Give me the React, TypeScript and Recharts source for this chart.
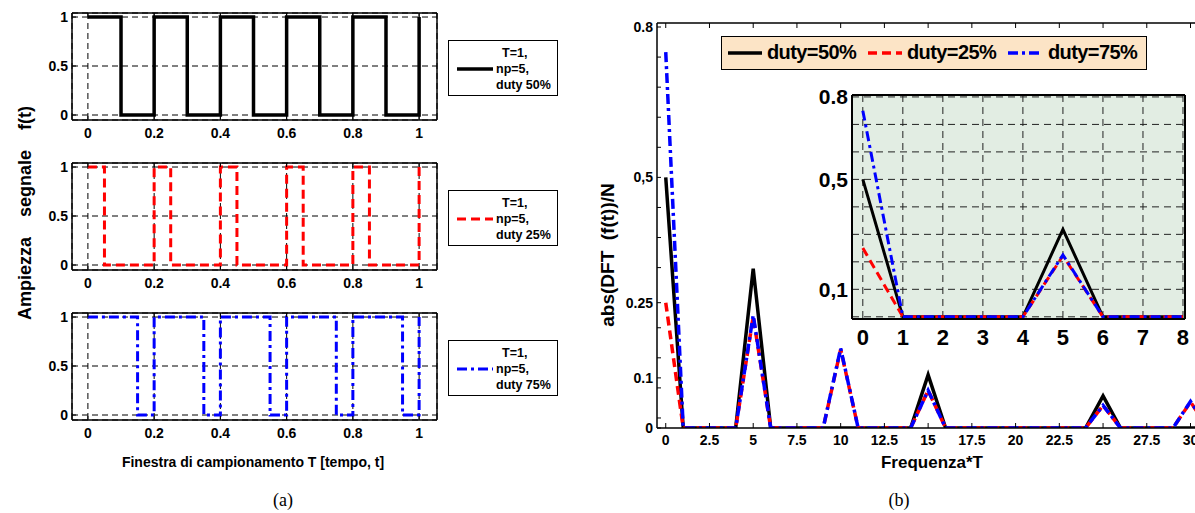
import React from 'react';
import { CartesianGrid, Line, LineChart, XAxis, YAxis } from 'recharts';

const FONT = '"Liberation Sans", Arial, sans-serif';

// segnali nel tempo (T = 1, np = 5)
const t50 = [0, 0.1, 0.2, 0.3, 0.4, 0.5, 0.6, 0.7, 0.8, 0.9, 1];
const f50 = [1, 0, 1, 0, 1, 0, 1, 0, 1, 0, 1];
const t25 = [0, 0.05, 0.2, 0.25, 0.4, 0.45, 0.6, 0.65, 0.8, 0.85, 1];
const f25 = [1, 0, 1, 0, 1, 0, 1, 0, 1, 0, 1];
const t75 = [0, 0.15, 0.2, 0.35, 0.4, 0.55, 0.6, 0.75, 0.8, 0.95, 1];
const f75 = [1, 0, 1, 0, 1, 0, 1, 0, 1, 0, 1];
const timeTicks = [0, 0.2, 0.4, 0.6, 0.8, 1];
const ampTicks = [0, 0.5, 1];

// spettro abs(DFT)/N
const freq = [0, 1, 2, 3, 4, 5, 6, 7, 8, 9, 10, 11, 12, 13, 14, 15, 16, 17, 18, 19, 20, 21, 22, 23, 24, 25, 26, 27, 28, 29, 30, 31];
const dft50 = [0.5, 0, 0, 0, 0, 0.318, 0, 0, 0, 0, 0, 0, 0, 0, 0, 0.106, 0, 0, 0, 0, 0, 0, 0, 0, 0, 0.064, 0, 0, 0, 0, 0, 0];
const dft25 = [0.25, 0, 0, 0, 0, 0.222, 0, 0, 0, 0, 0.157, 0, 0, 0, 0, 0.075, 0, 0, 0, 0, 0, 0, 0, 0, 0, 0.045, 0, 0, 0, 0, 0.052, 0];
const dft75 = [0.75, 0, 0, 0, 0, 0.225, 0, 0, 0, 0, 0.159, 0, 0, 0, 0, 0.075, 0, 0, 0, 0, 0, 0, 0, 0, 0, 0.045, 0, 0, 0, 0, 0.053, 0];
const freqTicks = [0, 2.5, 5, 7.5, 10, 12.5, 15, 17.5, 20, 22.5, 25, 27.5, 30];
const dftTicks = [0, 0.1, 0.25, 0.5, 0.8];
const dftMinorTicks = [0.02, 0.08, 0.14, 0.2, 0.32, 0.38, 0.44, 0.56, 0.62, 0.68, 0.74];
const zoomFreqTicks = [0, 1, 2, 3, 4, 5, 6, 7, 8];
const zoomGrid = [0, 0.1, 0.2, 0.3, 0.4, 0.5, 0.6, 0.7, 0.8];
const zoomLabels = [0.1, 0.5, 0.8];

const STYLE = {
  d50: { stroke: '#000000', dash: undefined as string | undefined, width: 3.5 },
  d25: { stroke: '#ff0000', dash: '9 5', width: 3 },
  d75: { stroke: '#0000ff', dash: '10 4 3 4', width: 3 },
};

const fmtMain = (v: number) => (v === 0.5 ? '0,5' : String(v));
const fmtZoom = (v: number) => (v === 0.5 || v === 0.1 ? String(v).replace('.', ',') : String(v));

// tick rivolti verso l'interno, come in matlab
const leftTick = (fs: number, labels: number[] | null, fmt: (v: number) => string, len = 5) => (p: any) => {
  const v = p.payload.value;
  const show = !labels || labels.includes(v);
  return (
    <g>
      {len > 0 && <line x1={p.x} x2={p.x + len} y1={p.y} y2={p.y} stroke="#000" strokeWidth={1} />}
      {show && (
        <text x={p.x - 4} y={p.y} dy="0.35em" textAnchor="end" fontSize={fs} fontWeight="bold" fontFamily={FONT} fill="#000">
          {fmt(v)}
        </text>
      )}
    </g>
  );
};
const bottomTick = (fs: number, gap: number, len = 5) => (p: any) => (
  <g>
    {len > 0 && <line x1={p.x} x2={p.x} y1={p.y} y2={p.y - len} stroke="#000" strokeWidth={1} />}
    <text x={p.x} y={p.y + gap} dy="0.35em" textAnchor="middle" fontSize={fs} fontWeight="bold" fontFamily={FONT} fill="#000">
      {String(p.payload.value)}
    </text>
  </g>
);
const topTick = (len = 5) => (p: any) => <line x1={p.x} x2={p.x} y1={p.y} y2={p.y + len} stroke="#000" strokeWidth={1} />;
const noTick = () => <g />;

type PanelProps = { top: number; t: number[]; f: number[]; s: keyof typeof STYLE; duty: string };

const SquarePanel = ({ top, t, f, s, duty }: PanelProps) => {
  const rows = t.map((x, i) => ({ t: x, f: f[i] }));
  const st = STYLE[s];
  return (
    <>
      <div style={{ position: 'absolute', left: 0, top }}>
        <LineChart width={445} height={150} data={rows} margin={{ top: 12, right: 7, bottom: 0, left: 0 }}>
          <CartesianGrid stroke="#000" strokeDasharray="6 4" strokeWidth={1} />
          <XAxis dataKey="t" type="number" domain={[-0.048, 1.054]} ticks={timeTicks} allowDataOverflow height={30}
            tickSize={0} tickMargin={0} tickLine={false} tick={bottomTick(14, 13, 4)} axisLine={{ stroke: '#000', strokeWidth: 1.5 }} interval={0} />
          <XAxis xAxisId="top" orientation="top" dataKey="t" type="number" domain={[-0.048, 1.054]} ticks={timeTicks} allowDataOverflow height={1}
            tickSize={0} tickMargin={0} tickLine={false} tick={topTick(4)} axisLine={{ stroke: '#000', strokeWidth: 1.5 }} interval={0} />
          <YAxis type="number" domain={[-0.051, 1.041]} ticks={ampTicks} allowDataOverflow width={72}
            tickSize={0} tickMargin={0} tickLine={false} tick={leftTick(14, null, (v) => String(v), 4)} axisLine={{ stroke: '#000', strokeWidth: 1.5 }} interval={0} />
          <YAxis yAxisId="right" orientation="right" type="number" domain={[-0.051, 1.041]} ticks={ampTicks} allowDataOverflow width={1}
            tickSize={0} tickMargin={0} tickLine={false} tick={noTick} axisLine={{ stroke: '#000', strokeWidth: 1.5 }} />
          <Line type="stepAfter" dataKey="f" stroke={st.stroke} strokeWidth={st.width} strokeDasharray={st.dash} dot={false} isAnimationActive={false} />
        </LineChart>
      </div>
      <div style={{ position: 'absolute', left: 448, top: top + 40, width: 108, height: 54, border: '1px solid #000', background: '#fff', fontFamily: FONT, fontWeight: 'bold', fontSize: 12.5, lineHeight: '16px' }}>
        <svg style={{ position: 'absolute', left: 8, top: 25 }} width={36} height={6}>
          <line x1={0} x2={36} y1={3} y2={3} stroke={st.stroke} strokeWidth={st.width} strokeDasharray={st.dash} />
        </svg>
        <div style={{ position: 'absolute', left: 53, top: 4 }}>T=1,</div>
        <div style={{ position: 'absolute', left: 47, top: 20 }}>np=5,</div>
        <div style={{ position: 'absolute', left: 47, top: 36, whiteSpace: 'nowrap' }}>{duty}</div>
      </div>
    </>
  );
};

const legendItems: { key: keyof typeof STYLE; label: string; lx: number; tx: number }[] = [
  { key: 'd50', label: 'duty=50%', lx: 6, tx: 45 },
  { key: 'd25', label: 'duty=25%', lx: 146, tx: 185 },
  { key: 'd75', label: 'duty=75%', lx: 286, tx: 326 },
];

export default function App() {
  const spectrum = freq.map((k, i) => ({ k, d50: dft50[i], d25: dft25[i], d75: dft75[i] }));
  const zoomRows = spectrum.slice(0, 9);
  const title: React.CSSProperties = { position: 'absolute', fontFamily: FONT, fontWeight: 'bold', whiteSpace: 'pre', color: '#000' };
  return (
    <div style={{ position: 'absolute', left: 0, top: 0, width: 1195, height: 513, overflow: 'hidden', background: '#fff' }}>
      <SquarePanel top={0} t={t50} f={f50} s="d50" duty="duty 50%" />
      <SquarePanel top={150} t={t25} f={f25} s="d25" duty="duty 25%" />
      <SquarePanel top={300} t={t75} f={f75} s="d75" duty="duty 75%" />

      <div style={{ ...title, left: 25, top: 213, fontSize: 18, transform: 'translate(-50%, -50%) rotate(-90deg)' }}>
        {'Ampiezza    segnale    f(t)'}
      </div>
      <div style={{ ...title, left: 253, top: 462, fontSize: 14, transform: 'translate(-50%, -50%)' }}>
        Finestra di campionamento T [tempo, t]
      </div>
      <div style={{ position: 'absolute', left: 283, top: 500, transform: 'translate(-50%, -50%)', fontFamily: '"Liberation Serif", serif', fontSize: 18 }}>(a)</div>

      {/* spettro */}
      <div style={{ position: 'absolute', left: 590, top: 0 }}>
        <LineChart width={640} height={513} data={spectrum} margin={{ top: 22, right: 22, bottom: 0, left: 0 }}>
          <XAxis dataKey="k" type="number" domain={[-0.5, 31]} ticks={freqTicks} allowDataOverflow height={85}
            tickSize={0} tickMargin={0} tickLine={false} tick={bottomTick(14, 12, 5)} axisLine={{ stroke: '#000', strokeWidth: 1.5 }} interval={0} />
          <XAxis xAxisId="top" orientation="top" dataKey="k" type="number" domain={[-0.5, 31]} ticks={freqTicks} allowDataOverflow height={1}
            tickSize={0} tickMargin={0} tickLine={false} tick={topTick(5)} axisLine={{ stroke: '#000', strokeWidth: 1.5 }} interval={0} />
          <YAxis type="number" domain={[0, 0.808]} ticks={[...dftTicks, ...dftMinorTicks].sort((a, b) => a - b)} allowDataOverflow width={67}
            tickSize={0} tickMargin={0} tickLine={false} tick={leftTick(14, dftTicks, fmtMain, 4)} axisLine={{ stroke: '#000', strokeWidth: 1.5 }} interval={0} />
          <Line type="linear" dataKey="d50" stroke={STYLE.d50.stroke} strokeWidth={3.5} dot={false} isAnimationActive={false} />
          <Line type="linear" dataKey="d25" stroke={STYLE.d25.stroke} strokeWidth={3.5} strokeDasharray={STYLE.d25.dash} dot={false} isAnimationActive={false} />
          <Line type="linear" dataKey="d75" stroke={STYLE.d75.stroke} strokeWidth={3.5} strokeDasharray={STYLE.d75.dash} dot={false} isAnimationActive={false} />
        </LineChart>
      </div>

      {/* ingrandimento 0..8 */}
      <div style={{ position: 'absolute', left: 800, top: 80 }}>
        <LineChart width={395} height={280} data={zoomRows} margin={{ top: 14, right: 9, bottom: 0, left: 0 }}>
          <CartesianGrid fill="#e2ede3" stroke="#222" strokeDasharray="7 5" strokeWidth={1} />
          <XAxis dataKey="k" type="number" domain={[-0.27, 8.05]} ticks={zoomFreqTicks} allowDataOverflow height={41}
            tickSize={0} tickMargin={0} tickLine={false} tick={bottomTick(22, 18, 0)} axisLine={{ stroke: '#000', strokeWidth: 2 }} interval={0} />
          <XAxis xAxisId="top" orientation="top" dataKey="k" type="number" domain={[-0.27, 8.05]} ticks={zoomFreqTicks} allowDataOverflow height={1}
            tickSize={0} tickMargin={0} tickLine={false} tick={noTick} axisLine={{ stroke: '#000', strokeWidth: 2 }} />
          <YAxis type="number" domain={[-0.008, 0.807]} ticks={zoomGrid} allowDataOverflow width={52}
            tickSize={0} tickMargin={0} tickLine={false} tick={leftTick(21, zoomLabels, fmtZoom, 0)} axisLine={{ stroke: '#000', strokeWidth: 2 }} interval={0} />
          <YAxis yAxisId="right" orientation="right" type="number" domain={[-0.008, 0.807]} ticks={zoomGrid} allowDataOverflow width={1}
            tickSize={0} tickMargin={0} tickLine={false} tick={noTick} axisLine={{ stroke: '#000', strokeWidth: 2 }} />
          <Line type="linear" dataKey="d50" stroke={STYLE.d50.stroke} strokeWidth={3} dot={false} isAnimationActive={false} />
          <Line type="linear" dataKey="d25" stroke={STYLE.d25.stroke} strokeWidth={3} strokeDasharray={STYLE.d25.dash} dot={false} isAnimationActive={false} />
          <Line type="linear" dataKey="d75" stroke={STYLE.d75.stroke} strokeWidth={3} strokeDasharray={STYLE.d75.dash} dot={false} isAnimationActive={false} />
        </LineChart>
      </div>

      <div style={{ position: 'absolute', left: 721, top: 36, width: 424, height: 32, border: '1px solid #000', background: '#fce4c6', fontFamily: FONT, fontWeight: 'bold', fontSize: 20 }}>
        {legendItems.map((it) => (
          <React.Fragment key={it.key}>
            <svg style={{ position: 'absolute', left: it.lx, top: 13 }} width={34} height={6}>
              <line x1={0} x2={34} y1={3} y2={3} stroke={STYLE[it.key].stroke} strokeWidth={3.5} strokeDasharray={STYLE[it.key].dash} />
            </svg>
            <div style={{ position: 'absolute', left: it.tx, top: 4, whiteSpace: 'nowrap', letterSpacing: -0.6 }}>{it.label}</div>
          </React.Fragment>
        ))}
      </div>

      <div style={{ ...title, left: 608, top: 255, fontSize: 19, transform: 'translate(-50%, -50%) rotate(-90deg)' }}>
        {'abs(DFT  (f(t))/N'}
      </div>
      <div style={{ ...title, left: 932, top: 463, fontSize: 17, transform: 'translate(-50%, -50%)' }}>Frequenza*T</div>
      <div style={{ position: 'absolute', left: 899, top: 500, transform: 'translate(-50%, -50%)', fontFamily: '"Liberation Serif", serif', fontSize: 18 }}>(b)</div>
    </div>
  );
}
